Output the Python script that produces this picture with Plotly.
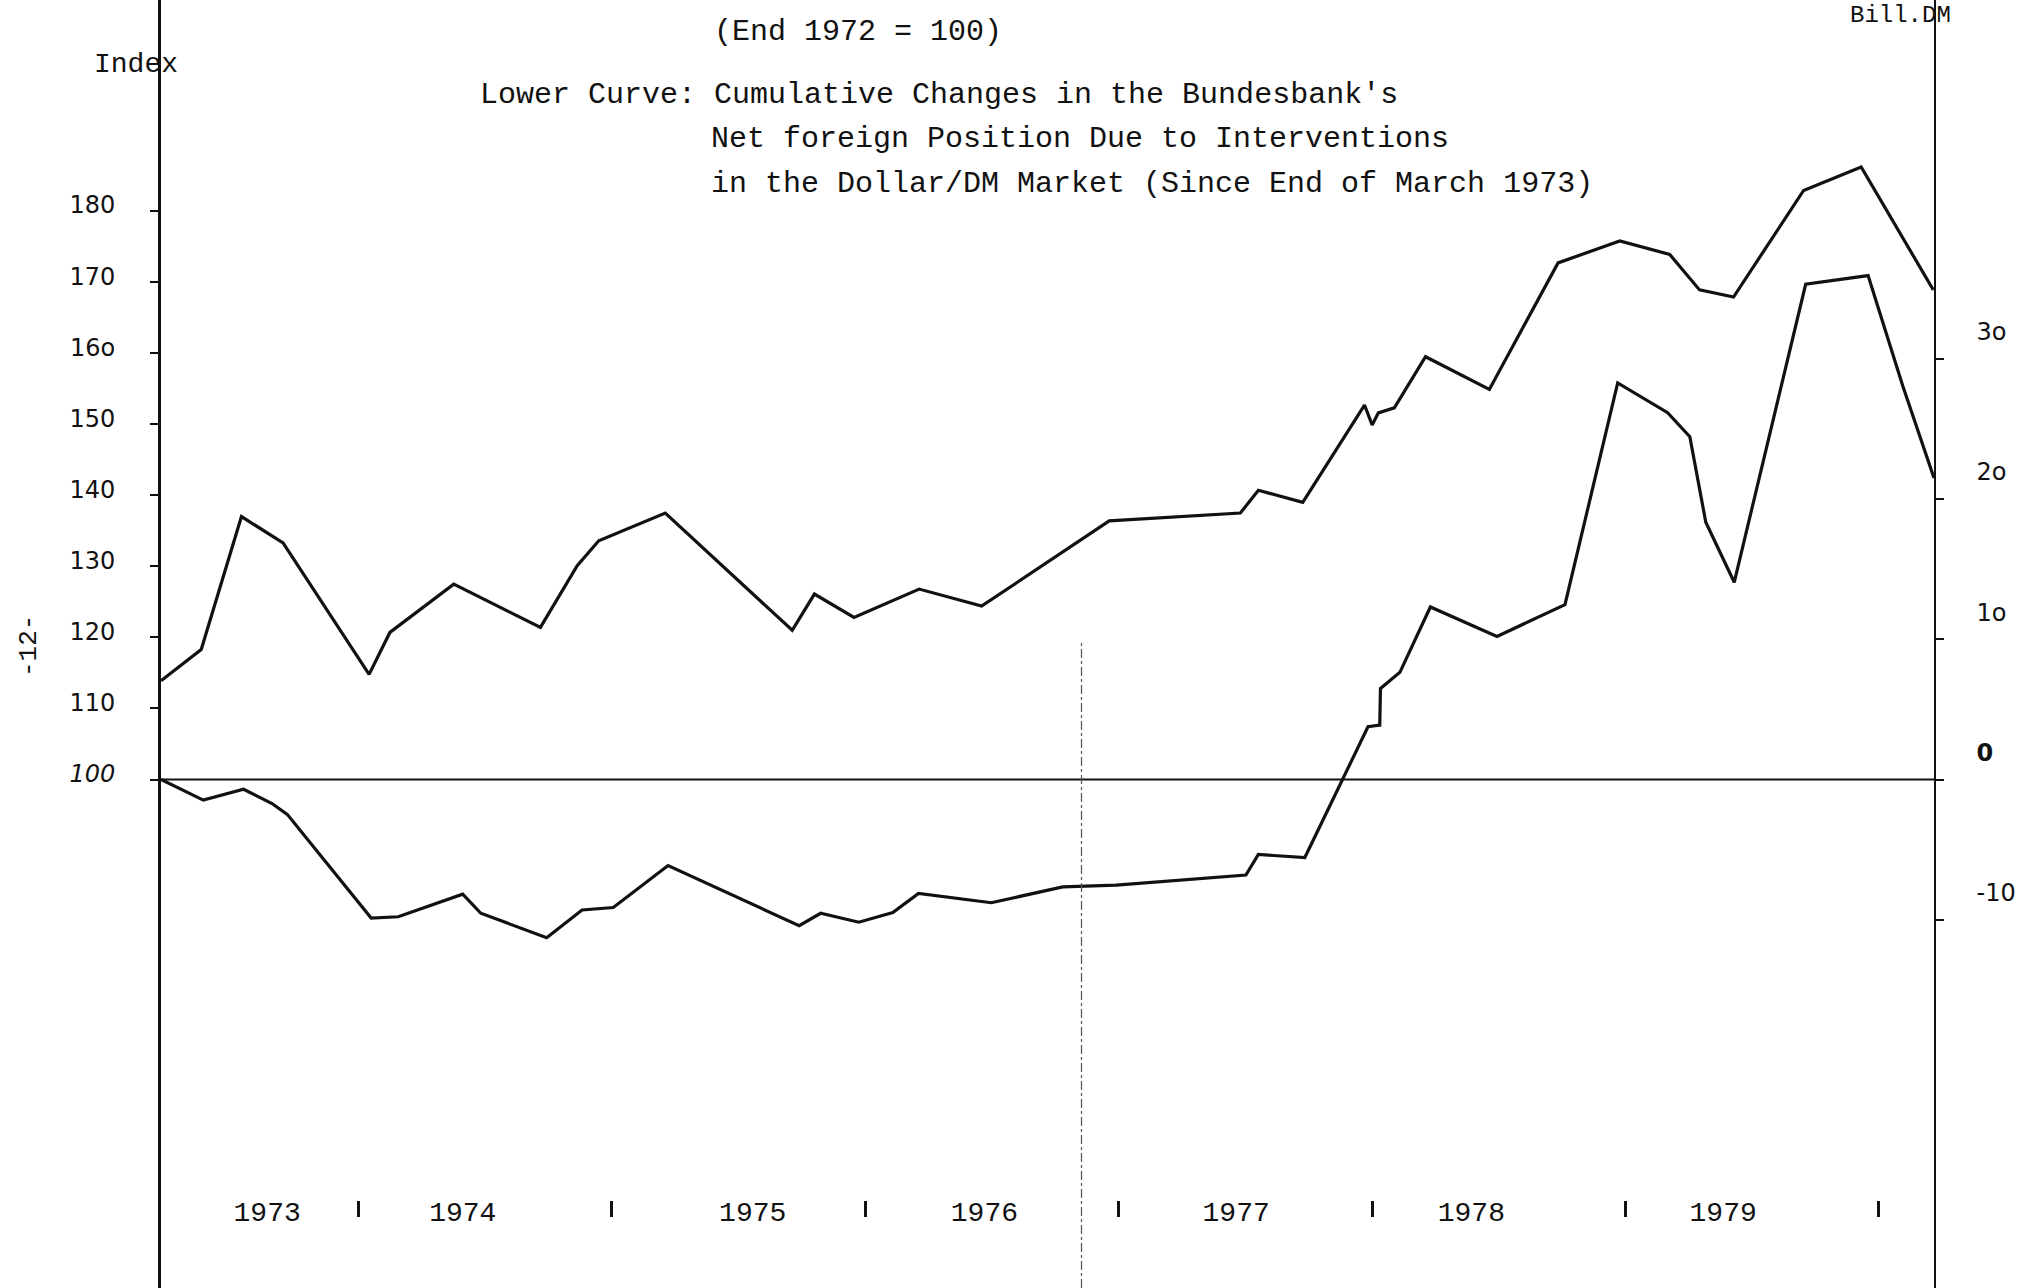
import plotly.graph_objects as go

# ---------------- data ----------------
# Upper curve: index, End 1972 = 100 (left axis)
upper_dates = [
    "1973-03-22", "1973-05-19", "1973-07-16", "1973-09-14", "1974-01-16",
    "1974-02-15", "1974-05-18", "1974-09-20", "1974-11-12", "1974-12-13",
    "1975-03-19", "1975-09-18", "1975-10-20", "1975-12-16", "1976-03-19",
    "1976-06-17", "1976-12-18", "1977-06-25", "1977-07-21", "1977-09-23",
    "1977-12-21", "1978-01-01", "1978-01-10", "1978-02-02", "1978-03-19",
    "1978-06-19", "1978-09-26", "1978-12-24", "1979-03-06", "1979-04-18",
    "1979-06-06", "1979-09-15", "1979-12-07", "1980-03-20",
]
upper_index = [
    113.9, 118.3, 137.0, 133.3, 114.8,
    120.7, 127.5, 121.4, 130.1, 133.6,
    137.5, 121.0, 126.1, 122.8, 126.8,
    124.4, 136.4, 137.5, 140.7, 139.0,
    152.7, 149.9, 151.6, 152.3, 159.5,
    154.9, 172.7, 175.8, 173.9, 168.9,
    167.9, 182.9, 186.2, 168.9,
]

# Lower curve: cumulative changes in net foreign position, bn DM (right axis)
lower_dates = [
    "1973-03-22", "1973-05-22", "1973-07-19", "1973-08-29", "1973-09-20",
    "1974-01-19", "1974-02-27", "1974-05-31", "1974-06-26", "1974-09-29",
    "1974-11-19", "1975-01-03", "1975-03-23", "1975-09-28", "1975-10-29",
    "1975-12-23", "1976-02-10", "1976-03-18", "1976-07-01", "1976-10-12",
    "1976-12-28", "1977-07-03", "1977-07-21", "1977-09-26", "1977-12-26",
    "1978-01-12", "1978-01-13", "1978-02-10", "1978-03-26", "1978-06-30",
    "1978-10-06", "1978-12-21", "1979-03-03", "1979-04-04", "1979-04-27",
    "1979-06-07", "1979-09-18", "1979-12-17", "1980-02-05", "1980-03-21",
]
lower_bn = [
    0.0, -1.47, -0.69, -1.71, -2.48,
    -9.87, -9.78, -8.17, -9.53, -11.27,
    -9.30, -9.12, -6.13, -10.42, -9.53,
    -10.17, -9.48, -8.12, -8.78, -7.65,
    -7.53, -6.81, -5.34, -5.56, 3.76,
    3.88, 6.48, 7.64, 12.30, 10.20,
    12.46, 28.27, 26.15, 24.43, 18.34,
    14.06, 35.30, 35.92, 28.05, 21.49,
]

baseline_bn = [0, 0]  # the "100 / 0" reference line

left_tickvals = [100, 110, 120, 130, 140, 150, 160, 170, 180]
left_ticktext = ["<i>100</i>", "110", "120", "130", "140", "150", "16o", "170", "180"]
right_tickvals = [-10, 0, 10, 20, 30]
right_ticktext = ["-10", "<b>0</b>", "1o", "2o", "3o"]

years = ["1973", "1974", "1975", "1976", "1977", "1978", "1979"]
year_label_dates = ["1973-08-22", "1974-05-31", "1975-07-23", "1976-06-21",
                    "1977-06-19", "1978-05-24", "1979-05-22"]
year_boundaries = ["1974-01-01", "1975-01-01", "1976-01-01", "1977-01-01",
                   "1978-01-01", "1979-01-01", "1980-01-01"]

x_range = ["1973-03-22", "1980-03-21"]
left_range = [28.44, 209.70]
right_range = [-36.24, 55.56]

# ---------------- layout helpers ----------------
W, H = 2037, 1288
L, R, T, B = 161, 103, 0, 0
PW, PH = W - L - R, H - T - B


def px(xf):
    return (xf - L) / PW


def py(yf):
    return 1 - (yf - T) / PH


MONO = "Liberation Mono"
SANS = "DejaVu Sans"
INK = "#111111"

fig = go.Figure()

fig.add_trace(go.Scatter(
    x=x_range, y=baseline_bn, mode="lines", xaxis="x2", yaxis="y2",
    line=dict(color=INK, width=2), hoverinfo="skip", showlegend=False))
fig.add_trace(go.Scatter(
    x=upper_dates, y=upper_index, mode="lines", xaxis="x", yaxis="y",
    line=dict(color=INK, width=3.2), showlegend=False))
fig.add_trace(go.Scatter(
    x=lower_dates, y=lower_bn, mode="lines", xaxis="x", yaxis="y2",
    line=dict(color=INK, width=3.2), showlegend=False))

annotations = [
    dict(text="(End 1972 = 100)", x=px(712), y=py(32)),
    dict(text="Lower Curve: Cumulative Changes in the Bundesbank's", x=px(478), y=py(95)),
    dict(text="Net foreign Position Due to Interventions", x=px(709), y=py(139)),
    dict(text="in the Dollar/DM Market (Since End of March 1973)", x=px(709), y=py(184)),
]
anns = []
for a in annotations:
    anns.append(dict(text=a["text"], x=a["x"], y=a["y"], xref="paper", yref="paper",
                     xanchor="left", yanchor="middle", showarrow=False,
                     font=dict(family=MONO, size=30, color=INK)))
anns.append(dict(text="Index", x=px(136), y=py(65), xref="paper", yref="paper",
                 xanchor="center", yanchor="middle", showarrow=False,
                 font=dict(family=MONO, size=28, color=INK)))
anns.append(dict(text="Bill.DM", x=px(1900), y=py(15), xref="paper", yref="paper",
                 xanchor="center", yanchor="middle", showarrow=False,
                 font=dict(family=MONO, size=24, color=INK)))
anns.append(dict(text="-12-", x=px(29), y=py(646), xref="paper", yref="paper",
                 xanchor="center", yanchor="middle", showarrow=False, textangle=-90,
                 font=dict(family=MONO, size=26, color=INK)))

fig.update_layout(
    width=W, height=H,
    margin=dict(l=L, r=R, t=T, b=B),
    paper_bgcolor="white", plot_bgcolor="white",
    showlegend=False,
    annotations=anns,
    shapes=[dict(type="line", xref="x", yref="paper", x0="1976-11-08", x1="1976-11-08",
                 y0=0, y1=py(640), line=dict(color="#555555", width=1.2, dash="dashdot"))],
    xaxis=dict(
        type="date", range=x_range, anchor="free", position=py(1192),
        showgrid=False, zeroline=False, showline=False, ticks="",
        tickmode="array", tickvals=year_label_dates, ticktext=years,
        tickfont=dict(family=MONO, size=28, color=INK),
    ),
    xaxis2=dict(
        type="date", range=x_range, overlaying="x", anchor="free", position=py(1200),
        showgrid=False, zeroline=False, showline=False,
        tickmode="array", tickvals=year_boundaries, showticklabels=False,
        ticks="outside", ticklen=16, tickwidth=3, tickcolor=INK,
    ),
    yaxis=dict(
        range=left_range, showgrid=False, zeroline=False,
        showline=True, linecolor=INK, linewidth=3,
        tickmode="array", tickvals=left_tickvals, ticktext=left_ticktext,
        ticks="outside", ticklen=8, tickwidth=2, tickcolor=INK,
        ticklabelstandoff=30, ticklabelshift=-6,
        tickfont=dict(family=SANS, size=24, color=INK),
    ),
    yaxis2=dict(
        range=right_range, overlaying="y", side="right", anchor="x",
        showgrid=False, zeroline=False,
        showline=True, linecolor=INK, linewidth=1.6,
        tickmode="array", tickvals=right_tickvals, ticktext=right_ticktext,
        ticks="outside", ticklen=8, tickwidth=2, tickcolor=INK,
        ticklabelstandoff=28, ticklabelshift=-27,
        tickfont=dict(family=SANS, size=24, color=INK),
    ),
)

fig.write_html("out.html", config={"displayModeBar": False},
               post_script="document.body.style.margin='0';")
